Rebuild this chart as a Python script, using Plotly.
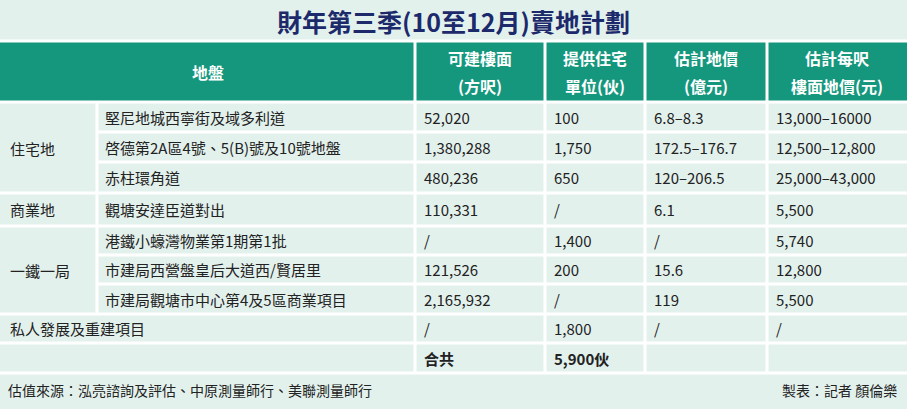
import plotly.graph_objects as go

title = '財年第三季(10至12月)賣地計劃'
headers = [['地盤'], ['可建樓面', '(方呎)'], ['提供住宅', '單位(伙)'], ['估計地價', '(億元)'], ['估計每呎', '樓面地價(元)']]
groups = ['住宅地', '住宅地', '住宅地', '商業地', '一鐵一局', '一鐵一局', '一鐵一局', '私人發展及重建項目', '']
sites = ['堅尼地城西寧街及域多利道', '啓德第2A區4號、5(B)號及10號地盤', '赤柱環角道',
         '觀塘安達臣道對出', '港鐵小蠔灣物業第1期第1批', '市建局西營盤皇后大道西/賢居里',
         '市建局觀塘市中心第4及5區商業項目', '', '']
area = ['52,020', '1,380,288', '480,236', '110,331', '/', '121,526', '2,165,932', '/', '合共']
units = ['100', '1,750', '650', '/', '1,400', '200', '/', '1,800', '5,900伙']
price = ['6.8–8.3', '172.5–176.7', '120–206.5', '6.1', '/', '15.6', '119', '/', '']
per_ft = ['13,000–16000', '12,500–12,800', '25,000–43,000', '5,500', '5,740', '12,800', '5,500', '/', '']
source = '估值來源：泓亮諮詢及評估、中原測量師行、美聯測量師行'
credit = '製表：記者 顏倫樂'

W, H = 907, 409
cols = [0, 97, 415, 545, 645, 767, 907]
row_y = [103, 132, 162, 193, 226, 255, 284, 314, 343, 373]
FONT = 'Noto Sans CJK TC'
TEXT = '#222222'

fig = go.Figure()
shapes = []
ann = []

def line(x0, y0, x1, y1, w=3):
    shapes.append(dict(type='line', x0=x0, y0=y0, x1=x1, y1=y1, line=dict(color='white', width=w)))

# header band
shapes.append(dict(type='rect', x0=0, y0=42, x1=W, y1=101, fillcolor='#15977d', line=dict(width=0)))
line(0, 41, W, 41)
line(0, 102, W, 102)
for x in cols[2:-1]:
    line(x, 42, x, row_y[-1])

hx = [(cols[0] + cols[2]) / 2] + [(cols[i] + cols[i + 1]) / 2 for i in range(2, 6)]
for x, t in zip(hx, headers):
    ys = [72] if len(t) == 1 else [58, 86]
    for y, s in zip(ys, t):
        ann.append(dict(x=x, y=y, text='<b>' + s + '</b>', showarrow=False,
                        font=dict(family=FONT, size=16, color='white'), xanchor='center', yanchor='middle'))

# body
n = len(groups)
for i in range(n):
    yc = (row_y[i] + row_y[i + 1]) / 2
    g = groups[i]
    if i > 0:
        inside = g != '' and g == groups[i - 1]
        line(cols[1] if inside else 0, row_y[i], W, row_y[i])
    if sites[i]:
        line(cols[1], row_y[i], cols[1], row_y[i + 1])
        ann.append(dict(x=cols[1] + 6, y=yc, text=sites[i], showarrow=False, xanchor='left',
                        font=dict(family=FONT, size=15, color=TEXT)))
    elif g:
        ann.append(dict(x=8, y=yc, text=g, showarrow=False, xanchor='left',
                        font=dict(family=FONT, size=15, color=TEXT)))
    bold = i == n - 1
    for c, vals in zip(range(2, 6), [area, units, price, per_ft]):
        v = vals[i]
        if v:
            ann.append(dict(x=cols[c] + 7, y=yc, text=('<b>' + v + '</b>') if bold else v,
                            showarrow=False, xanchor='left',
                            font=dict(family=FONT, size=15, color=TEXT)))
line(0, row_y[-1], W, row_y[-1])

# group labels centred on spans
seen = {}
for i, g in enumerate(groups):
    if g and sites[i]:
        seen.setdefault(g, [i, i])[1] = i
for g, (a, b) in seen.items():
    ann.append(dict(x=8, y=(row_y[a] + row_y[b + 1]) / 2, text=g, showarrow=False, xanchor='left',
                    font=dict(family=FONT, size=15, color=TEXT)))

ann.append(dict(x=W / 2, y=21, text='<b>' + title + '</b>', showarrow=False,
                font=dict(family=FONT, size=25, color='#1c2a6b')))
ann.append(dict(x=6, y=390, text=source, showarrow=False, xanchor='left',
                font=dict(family=FONT, size=14, color=TEXT)))
ann.append(dict(x=W - 8, y=390, text=credit, showarrow=False, xanchor='right',
                font=dict(family=FONT, size=14, color=TEXT)))

fig.update_layout(width=W, height=H, margin=dict(l=0, r=0, t=0, b=0),
                  paper_bgcolor='#e3f1ed', plot_bgcolor='#e3f1ed',
                  xaxis=dict(range=[0, W], visible=False, fixedrange=True),
                  yaxis=dict(range=[H, 0], visible=False, fixedrange=True),
                  shapes=shapes, annotations=ann, showlegend=False)
fig.write_html('out.html', config=dict(displayModeBar=False))

# drop the browser's default page margin so the chart fills the window
with open('out.html', encoding='utf-8') as f:
    page = f.read()
page = page.replace('<body>', '<body style="margin:0;overflow:hidden">', 1)
with open('out.html', 'w', encoding='utf-8') as f:
    f.write(page)
